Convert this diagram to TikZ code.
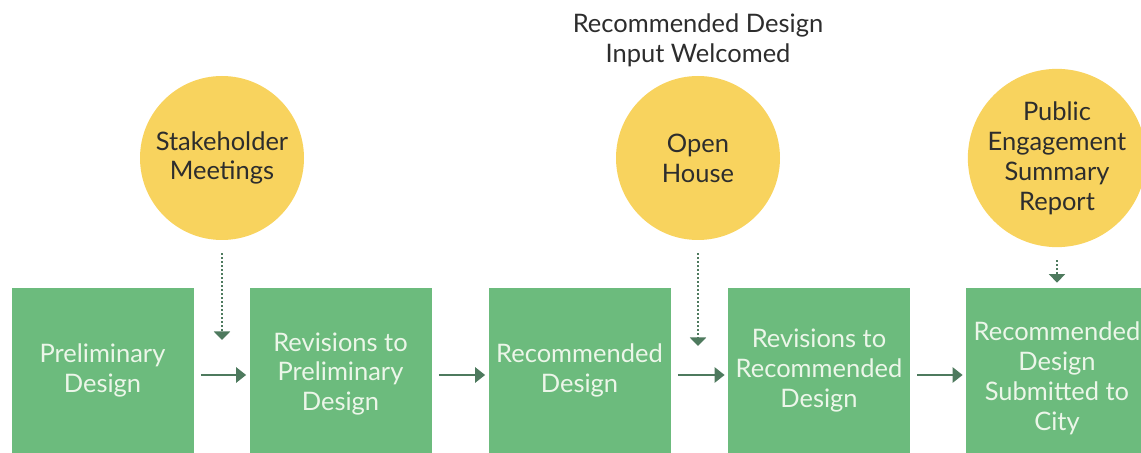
\documentclass[tikz,border=0pt]{standalone}
\usepackage{fontspec}
\setmainfont{Lato}
\usepackage{tikz}
\usetikzlibrary{arrows.meta}
\definecolor{stepgreen}{RGB}{108,187,125}
\definecolor{eventyellow}{RGB}{248,211,94}
\definecolor{arrowgreen}{RGB}{78,122,94}
\definecolor{boxtext}{RGB}{236,246,233}
\definecolor{labeltext}{RGB}{45,45,45}

\begin{document}
\begin{tikzpicture}[
    stage/.style={fill=stepgreen, minimum width=3.64cm, minimum height=3.3cm,
      inner sep=0pt, text=boxtext, align=center,
      font=\fontsize{14.5}{17}\selectfont},
    event/.style={circle, fill=eventyellow, minimum size=3.28cm, inner sep=0pt,
      text=labeltext, align=center, font=\fontsize{14.5}{17}\selectfont},
    flow/.style={arrowgreen, line width=1.6pt,
      -{Triangle[length=0.2cm, width=0.3cm]},
      shorten <=0.14cm, shorten >=0.06cm},
    feed/.style={arrowgreen, line width=1.1pt,
      dash pattern=on 0.04cm off 0.04cm,
      -{Triangle[length=0.17cm, width=0.32cm]}}]
    \pgfmathsetmacro{\yb}{1.65}
    \pgfmathsetmacro{\yc}{5.9}
    \pgfmathsetmacro{\yf}{-0.09}
    \useasboundingbox (0, 0) rectangle (22.82, 9.06);
    \clip (0, 0) rectangle (22.82, 9.06);
    \node[stage] (prelim) at (2.05, \yb) {Preliminary\\Design};
    \node[stage, minimum height=3.44cm] (revprelim) at (6.81, \yb-0.07)
      {Revisions to\\Preliminary\\Design};
    \node[stage] (recdesign) at (11.59, \yb) {Recommended\\Design};
    \node[stage] (revrec) at (16.38, \yb) {Revisions to\\Recommended\\Design};
    \node[stage, minimum height=3.62cm] (submit) at (21.14, \yb-0.16)
      {Recommended\\Design\\Submitted to\\City};
    \node[event] (meetings) at (4.44, \yc) {Stakeholder\\Meetings};
    \node[event] (openhouse) at (13.96, \yc) {Open\\House};
    \node[event] (report) at (21.14, \yc) {Public\\Engagement\\Summary\\Report};
    \node[text=labeltext, align=center, font=\fontsize{14.5}{17}\selectfont]
      (welcome) at (13.96, 8.26) {Recommended Design\\Input Welcomed};
    \coordinate (meetingsin) at (4.44, 2.26);
    \coordinate (openhousein) at (13.96, 2.14);
    \draw[flow] ([yshift=\yf cm]prelim.east) -- ([yshift=\yf cm]prelim.east -| revprelim.west);
    \draw[flow] ([yshift=\yf cm]recdesign.west -| revprelim.east) -- ([yshift=\yf cm]recdesign.west);
    \draw[flow] ([yshift=\yf cm]recdesign.east) -- ([yshift=\yf cm]revrec.west);
    \draw[flow] ([yshift=\yf cm]revrec.east) -- ([yshift=\yf cm]revrec.east -| submit.west);
    \draw[feed] ([yshift=-0.26cm]meetings.south) -- (meetingsin);
    \draw[feed] ([yshift=-0.26cm]openhouse.south) -- (openhousein);
    \draw[feed, shorten >=0.1cm] ([yshift=-0.26cm]report.south) -- (submit.north);
\end{tikzpicture}
\end{document}
